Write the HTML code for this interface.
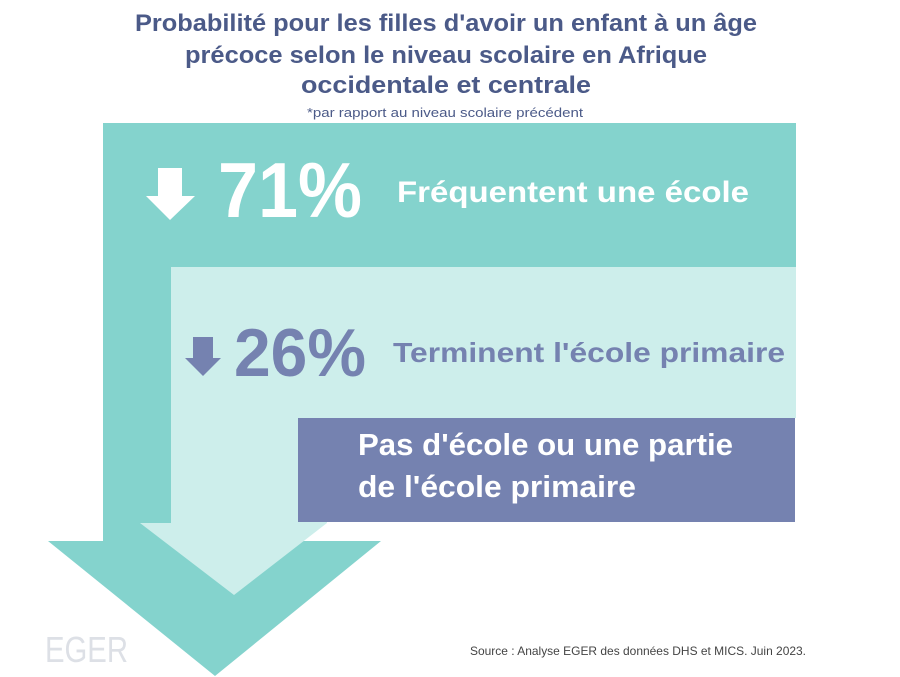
<!DOCTYPE html>
<html><head><meta charset="utf-8"><style>
html,body{margin:0;padding:0;background:#fff;}
svg{display:block;}
text{font-family:"Liberation Sans",sans-serif;}
</style></head><body>
<svg width="900" height="677" viewBox="0 0 900 677" xmlns="http://www.w3.org/2000/svg">
<rect width="900" height="677" fill="#fff"/>
<!-- teal outer arrow -->
<polygon points="103,123 796,123 796,267 171,267 171,541 381,541 215,676 48,541 103,541" fill="#84d3cd"/>
<!-- light inner -->
<polygon points="171,267 796,267 796,418 327,418 327,523 234,595 140,523 171,523" fill="#cdeeeb"/>
<!-- purple box -->
<rect x="298" y="418" width="497" height="104" fill="#7582b0"/>
<!-- title -->
<g fill="#4b5a88" font-weight="bold" font-size="24" text-anchor="middle">
<text x="446" y="31" textLength="622" lengthAdjust="spacingAndGlyphs">Probabilité pour les filles d'avoir un enfant à un âge</text>
<text x="446" y="63" textLength="522" lengthAdjust="spacingAndGlyphs">précoce selon le niveau scolaire en Afrique</text>
<text x="446" y="93" textLength="290" lengthAdjust="spacingAndGlyphs">occidentale et centrale</text>
</g>
<text x="445" y="117" fill="#4b5a88" font-size="12.5" text-anchor="middle" textLength="276" lengthAdjust="spacingAndGlyphs">*par rapport au niveau scolaire précédent</text>
<!-- white arrow -->
<polygon points="158,168 182,168 182,196 195,196 170,220 146,196 158,196" fill="#fff"/>
<text x="218" y="217" fill="#fff" font-weight="bold" font-size="78" textLength="144" lengthAdjust="spacingAndGlyphs">71%</text>
<text x="397" y="202" fill="#fff" font-weight="bold" font-size="30" textLength="352" lengthAdjust="spacingAndGlyphs">Fréquentent une école</text>
<!-- purple arrow -->
<polygon points="193,337 213,337 213,358 221,358 203,376 185,358 193,358" fill="#7582b0"/>
<text x="234" y="376" fill="#7582b0" font-weight="bold" font-size="68" textLength="132" lengthAdjust="spacingAndGlyphs">26%</text>
<text x="393" y="362" fill="#7582b0" font-weight="bold" font-size="28" textLength="392" lengthAdjust="spacingAndGlyphs">Terminent l'école primaire</text>
<g fill="#fff" font-weight="bold" font-size="31">
<text x="358" y="455" textLength="375" lengthAdjust="spacingAndGlyphs">Pas d'école ou une partie</text>
<text x="358" y="497" textLength="278" lengthAdjust="spacingAndGlyphs">de l'école primaire</text>
</g>
<text x="45" y="662" fill="#dde0e6" font-size="36" textLength="83" lengthAdjust="spacingAndGlyphs">EGER</text>
<text x="470" y="655" fill="#444" font-size="12" textLength="336" lengthAdjust="spacingAndGlyphs">Source : Analyse EGER des données DHS et MICS. Juin 2023.</text>
</svg>
</body></html>
